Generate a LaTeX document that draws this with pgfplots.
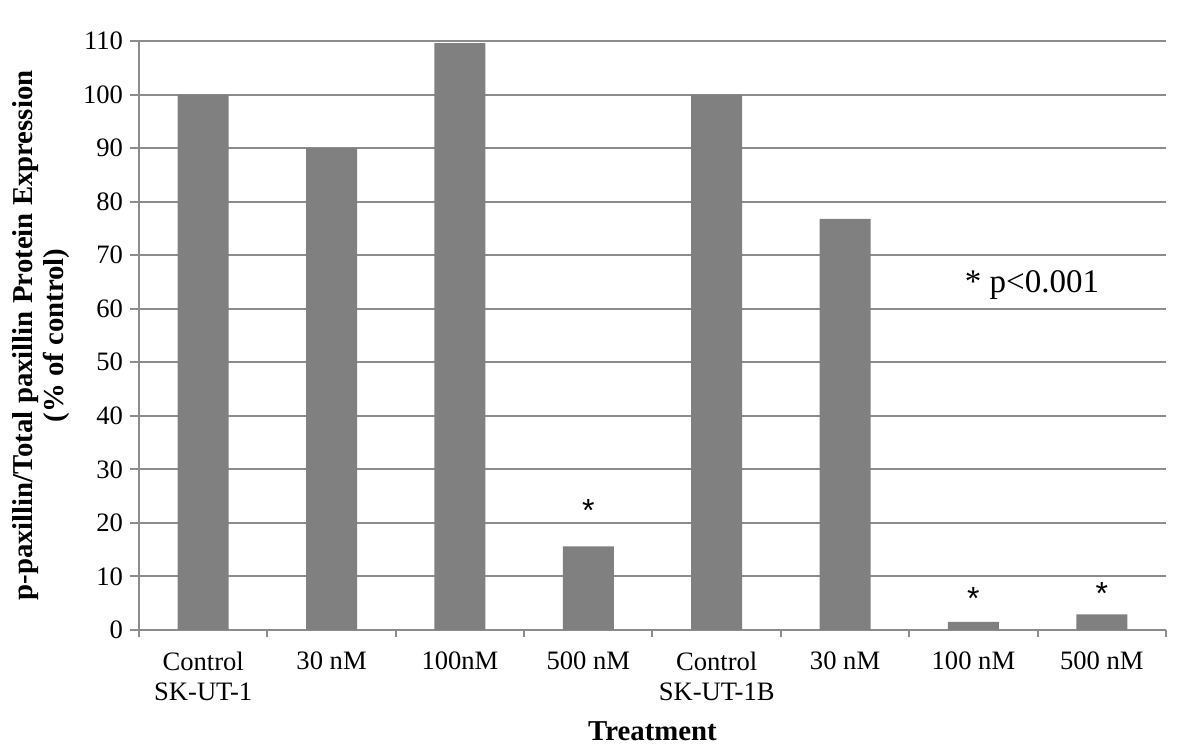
\documentclass[border=0pt]{standalone}
\usepackage{pgfplots}
\pgfplotsset{compat=1.18}
\usepackage{fontspec}
\setmainfont{Liberation Serif}
\newfontfamily\arialfont{Liberation Sans}
\definecolor{barc}{RGB}{128,128,128}
\definecolor{linec}{RGB}{140,140,140}
\begin{document}
\begin{tikzpicture}
\useasboundingbox (0,0) rectangle (600pt,373.5pt);
\begin{axis}[
  at={(69.5pt,58.5pt)}, anchor=south west,
  scale only axis, width=513.5pt, height=294.5pt,
  xmin=-0.5, xmax=7.5, ymin=0, ymax=110,
  axis x line*=bottom, axis y line*=left,
  axis line style={draw=linec, line width=1pt, -},
  ytick={0,10,...,110},
  ymajorgrids, grid style={draw=linec, line width=1pt},
  tick align=outside,
  major tick length=4.5pt,
  minor tick length=3.5pt,
  tick style={draw=linec, line width=1pt},
  xtick={0,...,7},
  xticklabels={{Control\\SK-UT-1},{30 nM},{100nM},{500 nM},{Control\\SK-UT-1B},{30 nM},{100 nM},{500 nM}},
  x tick label style={align=center, font=\fontsize{13.3}{15}\selectfont, yshift=-3pt},
  x tick style={draw=none},
  minor xtick={-0.5,0.5,...,7.5},
  minor x tick style={draw=linec, line width=1pt},
  y tick label style={font=\fontsize{13.3}{15}\selectfont},
  /pgf/number format/assume math mode=true,
  xlabel={\textbf{Treatment}},
  ylabel={\textbf{p-paxillin/Total paxillin Protein Expression}\\\textbf{(\% of control)}},
  every axis x label/.style={at={(axis description cs:0.5,-0.1715)}, anchor=center, font=\fontsize{14.4}{16}\selectfont},
  every axis y label/.style={at={(axis description cs:-0.0955,0.5)}, anchor=center, rotate=90, align=center, font=\fontsize{14.4}{15.5}\selectfont},
  clip=false,
]
\addplot[ybar, bar width=25.5pt, fill=barc, draw=none] coordinates {
  (0,100) (1,90) (2,109.6) (3,15.6) (4,100) (5,76.8) (6,1.5) (7,2.9)
};
\node[font=\arialfont\fontsize{16}{18}\selectfont] at (axis cs:3,22.4) {*};
\node[font=\arialfont\fontsize{16}{18}\selectfont] at (axis cs:6,5.8) {*};
\node[font=\arialfont\fontsize{16}{18}\selectfont] at (axis cs:7,6.8) {*};
\node[font=\fontsize{16.5}{18}\selectfont] at (axis cs:6.456,64.4) {* p<0.001};
\end{axis}
\end{tikzpicture}
\end{document}
